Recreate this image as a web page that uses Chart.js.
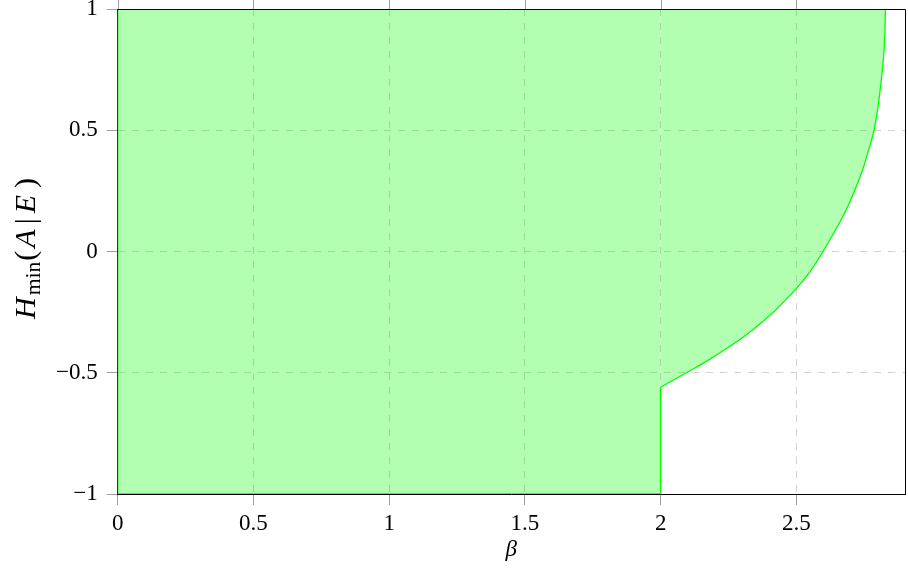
<!DOCTYPE html>
<html>
<head>
<meta charset="utf-8">
<script src="https://cdn.jsdelivr.net/npm/chart.js@4.4.0/dist/chart.umd.min.js"></script>
<style>
  html, body { margin: 0; padding: 0; background: #fff; }
  #wrap { width: 908px; height: 570px; }
</style>
</head>
<body>
<div id="wrap"><canvas id="c" width="908" height="570"></canvas></div>
<script>
// Upper-right boundary of the attainable region: CHSH value β vs. H_min(A|E)
const curveBeta = [2.828, 2.823, 2.804, 2.786, 2.766, 2.739, 2.683, 2.598, 2.549,
                   2.500, 2.420, 2.383, 2.322, 2.248, 2.162, 2.095, 2.000];
const curveHmin = [1.000, 0.831, 0.625, 0.500, 0.419, 0.322, 0.171, 0.000, -0.085,
                   -0.152, -0.245, -0.282, -0.338, -0.396, -0.457, -0.500, -0.560];

// Rectangular part of the region (β from 0 to 2)
const regionBeta = [0, 0, 2, 2];
const regionHmin = [-1, 1, 1, -1];

// Straight outline: top, left side, bottom and the step at β = 2
const edgeBeta = [2.828, 0, 0, 2, 2];
const edgeHmin = [1, 1, -1, -1, -0.56];

// Axis ticks
const xTicks = [0, 0.5, 1, 1.5, 2, 2.5];
const yTicks = [-1, -0.5, 0, 0.5, 1];

const GREEN = '#00ff00';
const FILL = 'rgba(0, 255, 0, 0.3)';
const GRID = '#d2d2d2';
const TICK = '#a0a0a0';
const SERIF = '"Liberation Serif", "DejaVu Serif", serif';

const toPoints = (xs, ys) => xs.map((x, i) => ({ x: x, y: ys[i] }));
const fmt = v => (v < 0 ? '\u2212' : '') + String(Math.abs(v));

// Top/right frame lines and top tick marks drawn over the filled region
const framePlugin = {
  id: 'frame',
  afterDatasetsDraw(chart) {
    const { ctx, chartArea: a, scales } = chart;
    ctx.save();
    ctx.lineWidth = 1;
    ctx.strokeStyle = TICK;
    ctx.beginPath();
    xTicks.forEach(v => {
      const px = Math.round(scales.x.getPixelForValue(v)) + 0.5;
      ctx.moveTo(px, a.top);
      ctx.lineTo(px, a.top - 11);
    });
    ctx.stroke();
    ctx.strokeStyle = '#000';
    ctx.beginPath();
    ctx.moveTo(a.left, Math.round(a.top) + 0.5);
    ctx.lineTo(Math.round(a.right) + 0.5, Math.round(a.top) + 0.5);
    ctx.lineTo(Math.round(a.right) + 0.5, a.bottom);
    ctx.stroke();
    ctx.restore();
  }
};

// Axis titles: β below, H_min(A|E) rotated on the left
const titlePlugin = {
  id: 'axisTitles',
  afterDraw(chart) {
    const { ctx, chartArea: a } = chart;
    ctx.save();
    ctx.fillStyle = '#000';
    ctx.textBaseline = 'alphabetic';
    ctx.textAlign = 'center';
    ctx.font = 'italic 23px ' + SERIF;
    ctx.fillText('\u03B2', (a.left + a.right) / 2, 556);

    const S = 30;
    const parts = [
      { t: 'H', st: 'italic', sz: S, dy: 0, gap: 2 },
      { t: 'min', st: 'normal', sz: S * 0.72, dy: 4.5, gap: 1 },
      { t: '(', st: 'normal', sz: S, dy: 0, gap: 3 },
      { t: 'A', st: 'italic', sz: S, dy: 0, gap: 5 },
      { t: '|', st: 'normal', sz: S, dy: 0, gap: 5 },
      { t: 'E', st: 'italic', sz: S, dy: 0, gap: 7 },
      { t: ')', st: 'normal', sz: S, dy: 0, gap: 0 }
    ];
    let total = 0;
    parts.forEach(p => {
      ctx.font = p.st + ' ' + p.sz + 'px ' + SERIF;
      p.w = ctx.measureText(p.t).width;
      total += p.w + p.gap;
    });
    ctx.translate(35, 248.5);
    ctx.rotate(-Math.PI / 2);
    ctx.textAlign = 'left';
    let x = -total / 2;
    parts.forEach(p => {
      ctx.font = p.st + ' ' + p.sz + 'px ' + SERIF;
      ctx.fillText(p.t, x, p.dy);
      x += p.w + p.gap;
    });
    ctx.restore();
  }
};

const tickFont = { family: SERIF, size: 23 };

new Chart(document.getElementById('c'), {
  type: 'line',
  data: {
    datasets: [
      {
        label: 'region',
        data: toPoints(regionBeta, regionHmin),
        fill: 'shape',
        backgroundColor: FILL,
        borderWidth: 0,
        pointRadius: 0,
        tension: 0
      },
      {
        label: 'curve',
        data: toPoints(curveBeta, curveHmin),
        fill: { value: 1 },
        backgroundColor: FILL,
        borderColor: GREEN,
        borderWidth: 1.3,
        pointRadius: 0,
        tension: 0.4
      },
      {
        label: 'edge',
        data: toPoints(edgeBeta, edgeHmin),
        fill: false,
        borderColor: GREEN,
        borderWidth: 1.3,
        pointRadius: 0,
        tension: 0
      }
    ]
  },
  options: {
    responsive: false,
    animation: false,
    events: [],
    layout: { padding: { top: 9, right: 3, left: 0, bottom: 0 } },
    plugins: { legend: { display: false }, tooltip: { enabled: false } },
    scales: {
      x: {
        type: 'linear',
        min: 0,
        max: 2.9,
        afterBuildTicks: s => { s.ticks = xTicks.map(v => ({ value: v })); },
        afterFit: s => { s.height = 76; s.paddingLeft = 0; s.paddingRight = 0; },
        grid: { color: GRID, lineWidth: 1, drawTicks: true, tickLength: 11, tickColor: TICK, tickWidth: 1, tickBorderDash: [] },
        border: { display: true, color: '#000', width: 1, dash: [7, 7] },
        ticks: { color: '#000', font: tickFont, padding: 5, maxRotation: 0, callback: v => fmt(v) }
      },
      y: {
        type: 'linear',
        min: -1,
        max: 1,
        afterBuildTicks: s => { s.ticks = yTicks.map(v => ({ value: v })); },
        afterFit: s => { s.width = 117.7; s.paddingTop = 0; s.paddingBottom = 0; },
        grid: { color: GRID, lineWidth: 1, drawTicks: true, tickLength: 11, tickColor: TICK, tickWidth: 1, tickBorderDash: [] },
        border: { display: true, color: '#000', width: 1, dash: [7, 7] },
        ticks: { color: '#000', font: tickFont, padding: 9, callback: v => fmt(v) }
      }
    }
  },
  plugins: [framePlugin, titlePlugin]
});
</script>
</body>
</html>
